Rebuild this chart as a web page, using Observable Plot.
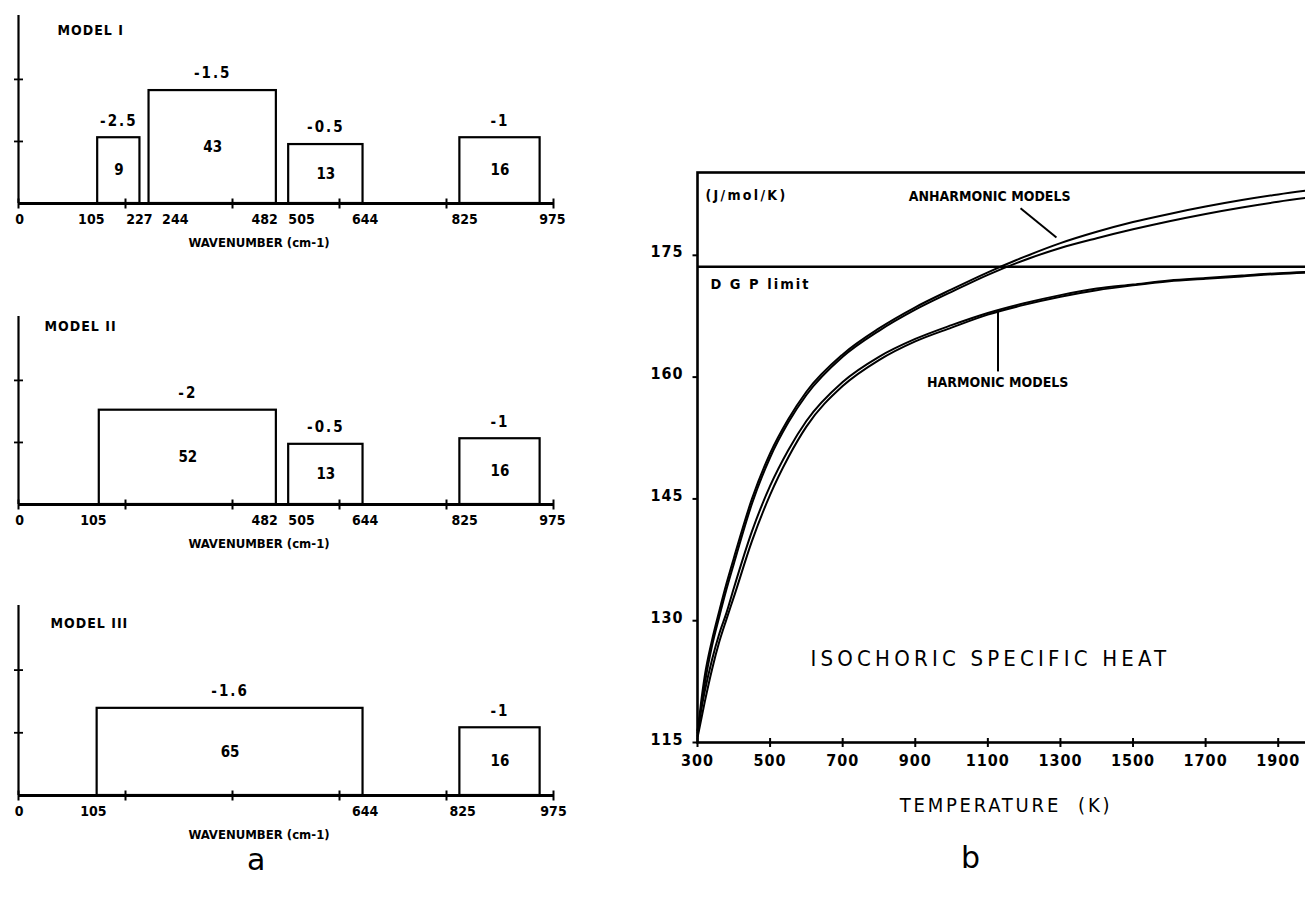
<!DOCTYPE html>
<html><head><meta charset="utf-8">
<script src="https://cdn.jsdelivr.net/npm/d3@7"></script>
<script src="https://cdn.jsdelivr.net/npm/@observablehq/plot@0.6"></script>
<style>
html,body{margin:0;padding:0;background:#fff;overflow:hidden}
#wrap{position:relative;width:1305px;height:899px;overflow:hidden;background:#fff}
#wrap svg{position:absolute;overflow:visible}
.cap{position:absolute;font-family:"DejaVu Sans",sans-serif;font-size:30px;line-height:22px;height:22px;color:#000}
</style></head><body><div id="wrap"></div>
<script>
// ---------- DATA: panel a (wavenumber bands) ----------
const waveTicks = [0, 200, 400, 600, 800, 1000];
const levelTicks = [1, 2];

const model1Start  = [148, 244, 505, 825];
const model1End    = [227, 482, 644, 975];
const model1Height = [1.06, 1.82, 0.95, 1.06];
const model1Count  = ["9", "43", "13", "16"];
const model1Exp    = ["-2.5", "-1.5", "-0.5", "-1"];
const model1TickText = ["0", "105", "227", "244", "482", "505", "644", "825", "975"];
const model1TickAt   = [2, 136, 226, 293, 460, 529, 648, 834, 998];

const model2Start  = [151, 505, 825];
const model2End    = [482, 644, 975];
const model2Height = [1.52, 0.97, 1.06];
const model2Count  = ["52", "13", "16"];
const model2Exp    = ["-2", "-0.5", "-1"];
const model2TickText = ["0", "105", "482", "505", "644", "825", "975"];
const model2TickAt   = [2, 140, 460, 529, 648, 834, 998];

const model3Start  = [147, 825];
const model3End    = [644, 975];
const model3Height = [1.39, 1.08];
const model3Count  = ["65", "16"];
const model3Exp    = ["-1.6", "-1"];
const model3TickText = ["0", "105", "644", "825", "975"];
const model3TickAt   = [1, 140, 648, 830, 1000];

// ---------- DATA: panel b (isochoric specific heat) ----------
const temps = [300,310,320,340,360,380,400,450,500,550,600,700,800,900,1000,1100,1200,1300,1400,1500,1600,1700,1800,1900,2000];
const anharmonic1 = [116.2,120.0,123.2,127.6,131.2,134.6,137.7,145.0,150.6,154.8,158.2,162.8,166.0,168.6,170.8,172.9,174.8,176.5,177.9,179.1,180.1,181.0,181.8,182.5,183.1];
const anharmonic2 = [115.8,119.2,122.2,126.9,130.5,133.9,137.0,144.4,150.1,154.4,157.8,162.5,165.7,168.3,170.5,172.6,174.4,175.9,177.1,178.2,179.2,180.1,180.9,181.6,182.2];
const harmonic1   = [116.5,119.0,121.3,125.2,128.4,131.0,134.0,141.0,146.6,151.0,154.6,159.4,162.5,164.7,166.4,167.9,169.1,170.1,170.9,171.4,171.9,172.2,172.5,172.8,173.0];
const harmonic2   = [115.6,117.8,120.0,124.0,127.4,130.2,132.9,139.8,145.5,150.1,153.9,158.9,162.1,164.4,166.1,167.7,168.9,169.9,170.7,171.3,171.8,172.1,172.4,172.7,172.9];
const dgpLimit = 173.6;
const tempTicks = [300, 500, 700, 900, 1100, 1300, 1500, 1700, 1900];
const heatTicks = [115, 130, 145, 160, 175];

// ---------- helpers ----------
const COND = '"DejaVu Sans Condensed","DejaVu Sans",sans-serif';
const vTick = {draw(ctx, size){const r = Math.sqrt(size/Math.PI); ctx.moveTo(0,-r); ctx.lineTo(0,r);}};
const hTick = {draw(ctx, size){const r = Math.sqrt(size/Math.PI); ctx.moveTo(-r,0); ctx.lineTo(r,0);}};
const leftTick = {draw(ctx, size){const r = Math.sqrt(size/Math.PI); ctx.moveTo(-r,0); ctx.lineTo(0,0);}};

const wrap = document.getElementById("wrap");
function place(svg, left, top){ svg.style.left = left + "px"; svg.style.top = top + "px"; wrap.appendChild(svg); }
// letter spacing (not a Plot text option) applied to rendered texts
function spacing(svg, rule){
  d3.select(svg).selectAll("text").each(function(){
    const ls = rule(this.textContent);
    if (ls) this.style.letterSpacing = ls + "px";
  });
}

function wavePanel(name, start, end, height, count, exp, tickText, tickAt, geo) {
  const bars = start.map((s, i) => ({x1: s, x2: end[i], h: height[i], n: count[i], e: exp[i]}));
  const labels = tickText.map((t, i) => ({t, x: tickAt[i]}));
  const mid = d => (d.x1 + d.x2) / 2;
  const txt = {fontFamily: COND, fontWeight: "bold", fill: "black", stroke: "none"};
  const svg = Plot.plot({
    width: 600, height: geo.h, marginLeft: 18, marginRight: 47, marginTop: geo.mt, marginBottom: 52,
    x: {domain: [0, 1000], axis: null},
    y: {domain: [0, 3.03], axis: null},
    style: {fontFamily: COND, fontStretch: "condensed", background: "white", overflow: "visible"},
    marks: [
      Plot.ruleX([0], {stroke: "black", strokeWidth: 2.2}),
      Plot.ruleY([0], {stroke: "black", strokeWidth: 2.8}),
      Plot.dot(waveTicks, {x: d => d, y: 0, symbol: vTick, r: 5, stroke: "black", strokeWidth: 2, fill: "none"}),
      Plot.dot(levelTicks, {x: 0, y: d => d, symbol: hTick, r: 4.5, stroke: "black", strokeWidth: 1.8, fill: "none"}),
      Plot.rect(bars, {x1: "x1", x2: "x2", y1: 0, y2: "h", fill: "none", stroke: "black", strokeWidth: 2.2}),
      Plot.text(bars, {x: mid, y: d => d.h / 2, text: "n", fontSize: 15, ...txt}),
      Plot.text(bars, {x: mid, y: "h", dy: -17, text: "e", fontSize: 15, ...txt}),
      Plot.text(labels, {x: "x", y: 0, dy: 16, text: "t", fontSize: 14, ...txt}),
      Plot.text([name], {frameAnchor: "top-left", dx: geo.tdx, dy: geo.tdy, text: d => d, textAnchor: "start", lineAnchor: "middle", fontSize: 14, ...txt}),
      Plot.text(["WAVENUMBER (cm-1)"], {frameAnchor: "bottom", dx: -27, dy: 39, text: d => d, textAnchor: "middle", lineAnchor: "middle", fontSize: 13, ...txt})
    ]
  });
  spacing(svg, t => exp.includes(t) ? 2 : t === name ? 1 : 0);
  return svg;
}

place(wavePanel("MODEL I", model1Start, model1End, model1Height, model1Count, model1Exp, model1TickText, model1TickAt,
  {h: 255, mt: 15, tdx: 39, tdy: 15}), 0, 0);
place(wavePanel("MODEL II", model2Start, model2End, model2Height, model2Count, model2Exp, model2TickText, model2TickAt,
  {h: 256, mt: 16, tdx: 26, tdy: 10}), 0, 300);
place(wavePanel("MODEL III", model3Start, model3End, model3Height, model3Count, model3Exp, model3TickText, model3TickAt,
  {h: 257, mt: 15, tdx: 32, tdy: 18}), 0, 590);

// ---------- panel b ----------
const series = [];
[["anharmonic 1", anharmonic1], ["anharmonic 2", anharmonic2], ["harmonic 1", harmonic1], ["harmonic 2", harmonic2]]
  .forEach(([model, vals]) => temps.forEach((T, i) => series.push({model, T, v: vals[i]})));

const bold = {fontFamily: COND, fontWeight: "bold", fill: "black", stroke: "none"};
const plain = {fontFamily: '"DejaVu Sans",sans-serif', fontWeight: "normal", fill: "black", stroke: "none"};
const heat = Plot.plot({
  width: 720, height: 700, marginLeft: 97, marginRight: 6, marginTop: 32, marginBottom: 98,
  x: {domain: [300, 2000], axis: null},
  y: {domain: [115, 185.2], axis: null},
  style: {fontFamily: COND, fontStretch: "condensed", background: "transparent", overflow: "visible"},
  marks: [
    Plot.frame({stroke: "black", strokeWidth: 2.6}),
    Plot.ruleY([dgpLimit], {stroke: "black", strokeWidth: 2.5}),
    Plot.line(series, {x: "T", y: "v", z: "model", curve: "monotone-x", stroke: "black", strokeWidth: 2}),
    Plot.dot(tempTicks, {x: d => d, y: 115, symbol: vTick, r: 4.5, stroke: "black", strokeWidth: 2, fill: "none"}),
    Plot.dot(heatTicks, {x: 300, y: d => d, symbol: leftTick, r: 5, stroke: "black", strokeWidth: 2, fill: "none"}),
    Plot.text(tempTicks, {x: d => d, y: 115, dy: 18, text: d => String(d), fontSize: 16, fontFamily: '"DejaVu Sans",sans-serif', fontWeight: "bold", fill: "black"}),
    Plot.text(heatTicks, {x: 300, y: d => d, dx: -14, dy: -3, textAnchor: "end", text: d => String(d), fontSize: 16, fontFamily: '"DejaVu Sans",sans-serif', fontWeight: "bold", fill: "black"}),
    Plot.text(["(J/mol/K)"], {frameAnchor: "top-left", dx: 8, dy: 23, textAnchor: "start", lineAnchor: "middle", text: d => d, fontSize: 14, ...bold}),
    Plot.text(["D G P limit"], {x: 300, y: dgpLimit, dx: 13, dy: 18, textAnchor: "start", text: d => d, fontSize: 14.5, ...bold}),
    Plot.text(["ANHARMONIC MODELS"], {x: 1105, y: 182.2, text: d => d, fontSize: 14, ...bold}),
    Plot.link([0], {x1: 1190, y1: 180.8, x2: 1289, y2: 177.2, stroke: "black", strokeWidth: 2}),
    Plot.text(["HARMONIC MODELS"], {x: 1127, y: 159.3, text: d => d, fontSize: 14, ...bold}),
    Plot.link([0], {x1: 1128, y1: 168.2, x2: 1128, y2: 160.7, stroke: "black", strokeWidth: 2}),
    Plot.text(["ISOCHORIC SPECIFIC HEAT"], {x: 1107, y: 125.3, text: d => d, fontSize: 22, ...plain}),
    Plot.text(["TEMPERATURE  (K)"], {frameAnchor: "bottom", dy: 63, textAnchor: "middle", lineAnchor: "middle", text: d => d, fontSize: 20, ...plain})
  ]
});
spacing(heat, t => {
  if (t === "ISOCHORIC SPECIFIC HEAT") return 4.2;
  if (t === "TEMPERATURE  (K)") return 2.8;
  if (t === "(J/mol/K)") return 2.3;
  if (t === "D G P limit") return 2;
  if (/^\d+$/.test(t)) return 1;
  return 0;
});
place(heat, 600, 140);

// ---------- captions ----------
const capA = document.createElement("div"); capA.className = "cap"; capA.textContent = "a";
capA.style.left = "247px"; capA.style.top = "849px"; wrap.appendChild(capA);
const capB = document.createElement("div"); capB.className = "cap"; capB.textContent = "b";
capB.style.left = "961px"; capB.style.top = "847px"; wrap.appendChild(capB);
</script></body></html>
